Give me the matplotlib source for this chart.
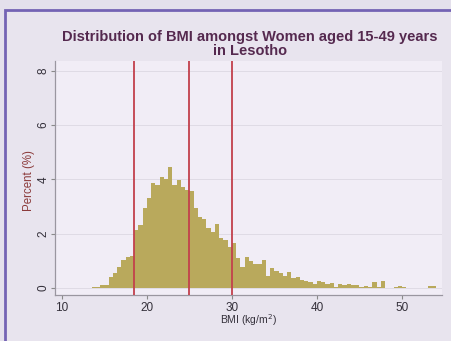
import matplotlib.pyplot as plt
from matplotlib.patches import Rectangle

# BMI histogram, bins 0.5 kg/m2 wide, percent of women per bin
bin_left = [13.5, 14.0, 14.5, 15.0, 15.5, 16.0, 16.5, 17.0, 17.5, 18.0,
            18.5, 19.0, 19.5, 20.0, 20.5, 21.0, 21.5, 22.0, 22.5, 23.0,
            23.5, 24.0, 24.5, 25.0, 25.5, 26.0, 26.5, 27.0, 27.5, 28.0,
            28.5, 29.0, 29.5, 30.0, 30.5, 31.0, 31.5, 32.0, 32.5, 33.0,
            33.5, 34.0, 34.5, 35.0, 35.5, 36.0, 36.5, 37.0, 37.5, 38.0,
            38.5, 39.0, 39.5, 40.0, 40.5, 41.0, 41.5, 42.0, 42.5, 43.0,
            43.5, 44.0, 44.5, 45.0, 45.5, 46.0, 46.5, 47.0, 47.5, 49.0,
            49.5, 50.0, 53.0, 53.5]
percent = [0.03, 0.05, 0.10, 0.12, 0.40, 0.56, 0.78, 1.03, 1.12, 1.18,
           2.13, 2.30, 2.95, 3.30, 3.85, 3.80, 4.10, 4.00, 4.46, 3.80,
           3.97, 3.72, 3.60, 3.55, 2.95, 2.60, 2.55, 2.20, 2.05, 2.35,
           1.85, 1.75, 1.50, 1.65, 1.10, 0.78, 1.15, 1.00, 0.88, 0.88,
           1.03, 0.45, 0.75, 0.62, 0.55, 0.45, 0.60, 0.35, 0.42, 0.30,
           0.26, 0.22, 0.15, 0.25, 0.20, 0.15, 0.18, 0.05, 0.15, 0.12,
           0.15, 0.10, 0.12, 0.05, 0.08, 0.05, 0.20, 0.05, 0.25, 0.05,
           0.08, 0.05, 0.08, 0.06]
bin_width = 0.5

# WHO cut-offs: underweight / overweight / obese
cutoffs = [18.5, 25, 30]

x_ticks = [10, 20, 30, 40, 50]
y_ticks = [0, 2, 4, 6, 8]

plt.rcParams['font.family'] = ['Liberation Sans', 'DejaVu Sans']

fig = plt.figure(figsize=(4.51, 3.41), dpi=100)
fig.patch.set_facecolor('#e4e0ec')

# slide frame around the chart
frame = Rectangle((5 / 451, -0.01), 1.0, 1 - 10 / 341 + 0.01,
                  transform=fig.transFigure, facecolor='#e8e4ee',
                  edgecolor='#7463b4', linewidth=2, zorder=-1)
fig.patches.append(frame)

ax = fig.add_axes([55 / 451, 1 - 295 / 341, (442 - 55) / 451, (295 - 61) / 341])
ax.set_zorder(1)
ax.set_facecolor('#f1edf6')

ax.bar(bin_left, percent, width=bin_width, align='edge',
       color='#b9a95c', edgecolor='none', zorder=2)
for c in cutoffs:
    ax.axvline(c, color='#c2404c', linewidth=1.3, zorder=3)

ax.set_xlim(9.2, 54.7)
ax.set_ylim(-0.26, 8.35)
ax.set_xticks(x_ticks)
ax.set_yticks(y_ticks)
ax.set_yticklabels([str(t) for t in y_ticks], rotation=90, va='center')
ax.tick_params(axis='both', labelsize=8.5, colors='#8a8a8a',
               labelcolor='#34303a', length=3, width=0.8)
ax.tick_params(axis='x', pad=2)
ax.tick_params(axis='y', pad=1)
ax.grid(axis='y', color='#dcd8e2', linewidth=0.6, zorder=1)

for side in ['top', 'right']:
    ax.spines[side].set_visible(False)
for side in ['left', 'bottom']:
    ax.spines[side].set_color('#9a96a0')
    ax.spines[side].set_linewidth(0.9)

ax.set_ylabel('Percent (%)', fontsize=8.3, color='#8b3a3a')
ax.yaxis.set_label_coords(-0.052, 0.49)
ax.set_xlabel('BMI (kg/m$^2$)', fontsize=7.5, color='#34303a')
ax.xaxis.set_label_coords(0.5, -0.075)

fig.text(250 / 451, 1 - 44 / 341,
         'Distribution of BMI amongst Women aged 15-49 years\nin Lesotho',
         ha='center', va='center', fontsize=10.5, fontweight='bold',
         color='#55294f', linespacing=0.95)

fig.savefig('out.png', dpi=100, facecolor=fig.get_facecolor())
